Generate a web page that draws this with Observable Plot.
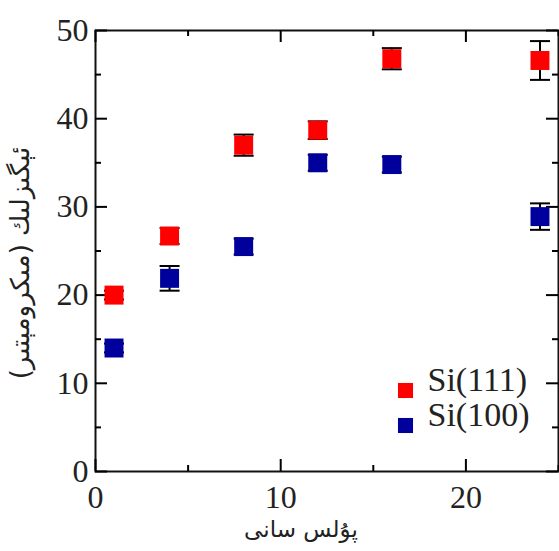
<!DOCTYPE html>
<html>
<head>
<meta charset="utf-8">
<script src="https://cdn.jsdelivr.net/npm/d3@7"></script>
<script src="https://cdn.jsdelivr.net/npm/@observablehq/plot@0.6"></script>
<style>
  html, body { margin: 0; padding: 0; background: #fff; }
  #chart svg { display: block; }
</style>
</head>
<body>
<div id="chart"></div>
<script>
// ---- data ----
const pulses = [1, 4, 8, 12, 16, 24];
const si111 = [20.0, 26.7, 37.0, 38.7, 46.8, 46.6];
const si111Err = [0.5, 0.9, 1.2, 1.0, 1.2, 2.2];
const si100 = [14.0, 21.9, 25.5, 35.0, 34.8, 28.9];
const si100Err = [0.5, 1.4, 0.9, 0.9, 0.9, 1.5];
const seriesNames = ["Si(111)", "Si(100)"];
const seriesColors = ["#ff0000", "#00009c"];
const xTicks = [0, 10, 20];
const yTicks = [0, 10, 20, 30, 40, 50];
const xMinor = [5, 15, 25];
const yMinor = [5, 15, 25, 35, 45];
const xLabel = "پۇلس سانى";
const yLabel = "ئېگىزلىك (مىكرومېتىر)";

// ---- table ----
const rows = [];
pulses.forEach((p, i) => {
  rows.push({series: seriesNames[0], x: p, y: si111[i], err: si111Err[i]});
  rows.push({series: seriesNames[1], x: p, y: si100[i], err: si100Err[i]});
});

const W = 559, H = 551;
const mt = 30, mb = 80, ml = 95, mr = 1;
const innerW = W - ml - mr, innerH = H - mt - mb;
const major = 12, minor = 6;
const serif = "'Liberation Serif', 'Times New Roman', Times, 'DejaVu Serif', serif";
const arabic = "'DejaVu Sans', sans-serif";

const capSymbol = {
  draw(context, size) {
    const w = Math.sqrt(size / Math.PI);
    context.moveTo(-w, 0);
    context.lineTo(w, 0);
  }
};

const tickMarks = (vals, len, side) => {
  if (side === "bottom") return Plot.tickX(vals, {x: d => d, insetTop: innerH - len, stroke: "#000", strokeWidth: 2});
  if (side === "top") return Plot.tickX(vals, {x: d => d, insetBottom: innerH - len, stroke: "#000", strokeWidth: 2});
  if (side === "left") return Plot.tickY(vals, {y: d => d, insetRight: innerW - len, stroke: "#000", strokeWidth: 2});
  return Plot.tickY(vals, {y: d => d, insetLeft: innerW - len, stroke: "#000", strokeWidth: 2});
};

const legendMarks = [];
seriesNames.forEach((name, i) => {
  legendMarks.push(Plot.dot([name], {frameAnchor: "bottom-right", dx: -153, dy: -81 + i * 35, symbol: "square", r: 8.5, fill: seriesColors[i]}));
  legendMarks.push(Plot.text([name], {frameAnchor: "bottom-right", dx: -131, dy: -81 + i * 35, text: d => d, textAnchor: "start", fontFamily: serif, fontSize: 34, fill: "#222"}));
});

const chart = Plot.plot({
  width: W,
  height: H,
  marginTop: mt,
  marginBottom: mb,
  marginLeft: ml,
  marginRight: mr,
  style: {background: "#fff"},
  x: {domain: [0, 25]},
  y: {domain: [0, 50]},
  color: {domain: seriesNames, range: seriesColors},
  marks: [
    Plot.frame({stroke: "#111", strokeWidth: 2}),
    tickMarks(xTicks, major, "bottom"),
    tickMarks(xTicks, major, "top"),
    tickMarks(xMinor, minor, "bottom"),
    tickMarks(xMinor, minor, "top"),
    tickMarks(yTicks, major, "left"),
    tickMarks(yTicks, major, "right"),
    tickMarks(yMinor, minor, "left"),
    tickMarks(yMinor, minor, "right"),
    Plot.axisX({ticks: xTicks, tickSize: 0, tickPadding: 14, fontFamily: serif, fontSize: 32, color: "#222", label: null}),
    Plot.axisY({ticks: yTicks, tickSize: 0, tickPadding: 7, fontFamily: serif, fontSize: 32, color: "#222", label: null}),
    Plot.ruleX(rows, {x: "x", y1: d => d.y - d.err, y2: d => d.y + d.err, stroke: "#000", strokeWidth: 2}),
    Plot.dot(rows, {x: "x", y: d => d.y - d.err, symbol: capSymbol, r: 10, stroke: "#000", strokeWidth: 2}),
    Plot.dot(rows, {x: "x", y: d => d.y + d.err, symbol: capSymbol, r: 10, stroke: "#000", strokeWidth: 2}),
    Plot.dot(rows, {x: "x", y: "y", symbol: "square", r: 10.7, fill: "series"}),
    ...legendMarks,
    Plot.text([xLabel], {frameAnchor: "bottom", dx: -26, dy: 65, text: d => d, textAnchor: "middle", fontFamily: arabic, fontSize: 23, fill: "#222"}),
    Plot.text([yLabel], {frameAnchor: "left", dx: -75, dy: 12, rotate: -90, text: d => d, textAnchor: "middle", fontFamily: arabic, fontSize: 26, fill: "#222"})
  ]
});
document.getElementById("chart").appendChild(chart);
</script>
</body>
</html>
